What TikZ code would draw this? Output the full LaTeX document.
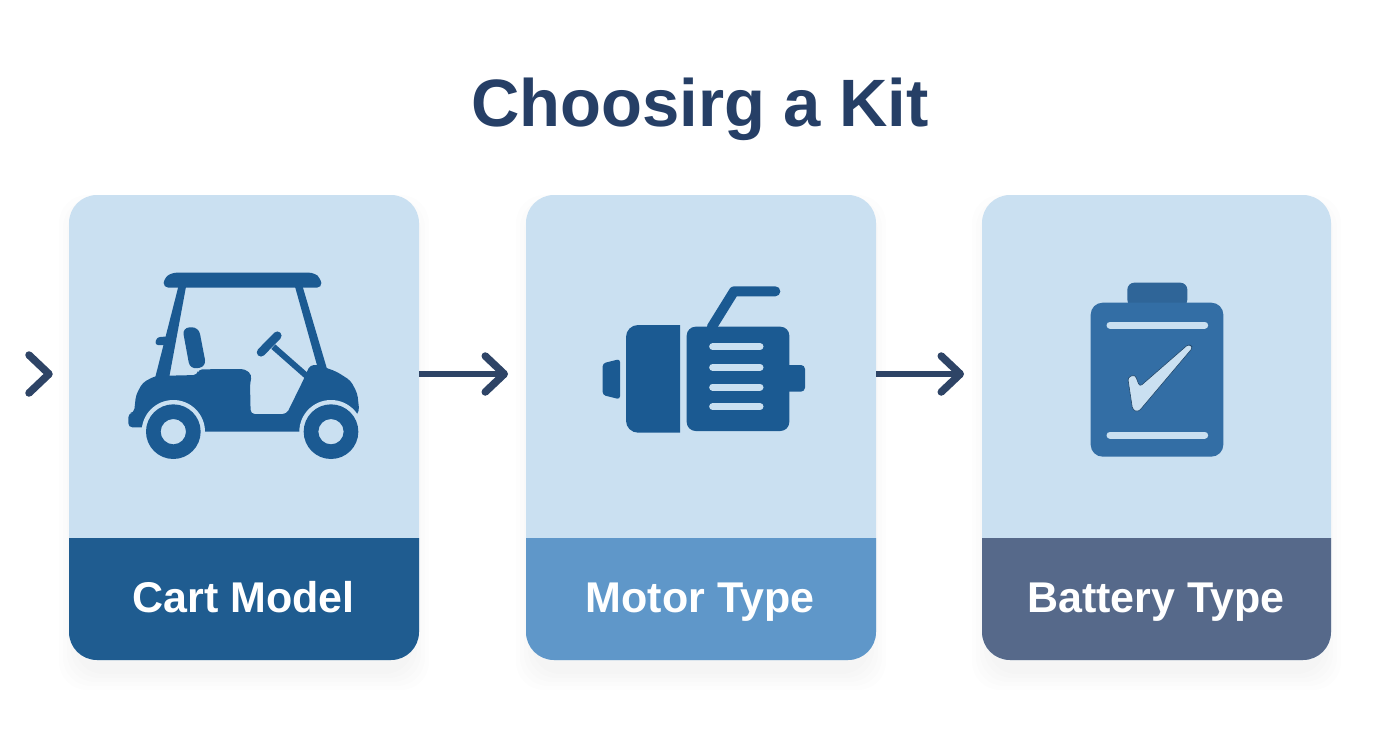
\documentclass[tikz,border=0pt]{standalone}
\usepackage{fontspec}
\setmainfont{Liberation Sans}
\usetikzlibrary{arrows.meta}
\definecolor{cardbg}{HTML}{CAE0F1}
\definecolor{navy}{HTML}{263F66}
\definecolor{arrowc}{HTML}{2E4466}
\definecolor{iconA}{HTML}{1B5A92}
\definecolor{iconB}{HTML}{336EA5}
\definecolor{iconBdark}{HTML}{2F6598}
\definecolor{bannerA}{HTML}{1F5C90}
\definecolor{bannerB}{HTML}{5F97C9}
\definecolor{bannerC}{HTML}{56698A}
\tikzset{
  card/.style={fill=cardbg,rounded corners=28pt,minimum height=465pt,inner sep=0pt,outer sep=0pt},
  bannertext/.style={text=white,font=\bfseries\fontsize{43}{43}\selectfont,inner sep=0pt,anchor=base},
  titletext/.style={text=navy,font=\bfseries\fontsize{67}{67}\selectfont,inner sep=0pt,anchor=base},
  flow/.style={draw=arrowc,line width=6pt,-{Straight Barb[length=19pt,width=36pt,line width=7.5pt,round]}},
  chevron/.style={draw=arrowc,line width=7.5pt,line cap=round,line join=round},
  slot/.style={draw=cardbg,line width=7pt,line cap=round},
  zoomA/.style={shift={(110,250)},x=0.33333pt,y=-0.33333pt},
  zoomB/.style={shift={(590,270)},x=0.33333pt,y=-0.33333pt},
  zoomC/.style={shift={(1070,270)},x=0.33333pt,y=-0.33333pt},
}
\newcommand{\softshadow}[2]{%
  \foreach \g in {16,12,8,4,0}{
    \fill[black,opacity=0.008,rounded corners=28pt]
      (#1+6-\g,195+16-\g) rectangle (#2-6+\g,660+14+\g);
  }}
\begin{document}
\begin{tikzpicture}[x=1pt,y=-1pt]
\useasboundingbox (0,0) rectangle (1392,752);
\fill[white] (0,0) rectangle (1392,752);

\softshadow{69}{419}
\softshadow{526}{876}
\softshadow{982}{1331}

\node[titletext] (title) at (700,126.5) {Choosirg a Kit};

% cards
\node[card,minimum width=350pt] (c1) at (244,427.5) {};
\node[card,minimum width=350pt] (c2) at (701,427.5) {};
\node[card,minimum width=349pt] (c3) at (1156.5,427.5) {};

% banners
\fill[bannerA] (c1.west |- 0,538) {[rounded corners=28pt] -- (c1.south west) -- (c1.south east)} -- (c1.east |- 0,538) -- cycle;
\fill[bannerB] (c2.west |- 0,538) {[rounded corners=28pt] -- (c2.south west) -- (c2.south east)} -- (c2.east |- 0,538) -- cycle;
\fill[bannerC] (c3.west |- 0,538) {[rounded corners=28pt] -- (c3.south west) -- (c3.south east)} -- (c3.east |- 0,538) -- cycle;

\node[bannertext] (t1) at (243.5,612) {Cart Model};
\node[bannertext] (t2) at (700,612) {Motor Type};
\node[bannertext] (t3) at (1156,612) {Battery Type};

% connectors
\coordinate (s1) at (c1.east |- 0,374);
\coordinate (e1) at (508,374);
\coordinate (s2) at (c2.east |- 0,374);
\coordinate (e2) at (964,374);
\draw[flow] (s1) -- (e1);
\draw[flow] (s2) -- (e2);
\coordinate (ch1) at (29,355);
\coordinate (ch2) at (49,374);
\coordinate (ch3) at (29,393);
\draw[chevron] (ch1) -- (ch2) -- (ch3);

% golf cart icon
\begin{scope}[zoomA]
  \fill[iconA,rounded corners=5pt] (160,113) -- (162,85) -- (185,68) -- (612,68) -- (632,85) -- (636,113) -- cycle;
  \fill[iconA] (205,110) -- (228,110) -- (178,380) -- (135,385) -- cycle;
  \fill[iconA] (555,110) -- (578,110) -- (652,360) -- (625,360) -- cycle;
  \fill[iconA,rounded corners=3pt] (135,285) -- (140,262) -- (185,258) -- (180,285) -- cycle;
  \fill[iconA,rounded corners=7pt] (217,233) -- (266,231) -- (289,350) -- (240,358) -- cycle;
  % body
  \fill[iconA,rounded corners=4pt] (55,532) -- (55,490) -- (72,488) -- (78,435) -- (98,398) -- (135,378) -- (262,375) -- (265,358) -- (405,357) -- (426,375) -- (420,400) -- (422,492) -- (530,492) -- (580,390) -- (600,345) -- (625,345) -- (680,365) -- (722,392) -- (742,430) -- (748,484) -- (700,545) -- (295,545) -- (150,545) -- (110,532) -- cycle;
  % wheel arches
  \fill[cardbg] (190,545) circle (95);
  \fill[cardbg] (663,545) circle (95);
  \fill[iconA,even odd rule] (190,545) circle (82) (190,545) circle (38);
  \fill[iconA,even odd rule] (663,545) circle (82) (663,545) circle (38);
  % steering
  \draw[iconA,line width=6pt] (490,290) -- (590,378);
  \draw[iconA,line width=8.5pt,line cap=round] (453,307) -- (502,257);
\end{scope}

% motor icon
\begin{scope}[zoomB]
  \draw[iconA,line width=10pt,line join=round,line cap=round] (365,172) -- (432,64) -- (556,64);
  \fill[iconA,rounded corners=3pt] (38,280) -- (90,267) -- (90,388) -- (38,375) -- cycle;
  \fill[iconA] (270,165) {[rounded corners=12pt] -- (108,165) -- (108,488)} -- (270,488) -- cycle;
  \fill[iconA,rounded corners=4pt] (580,285) -- (645,285) -- (645,365) -- (580,365) -- cycle;
  \fill[iconA,rounded corners=9pt] (290,170) rectangle (598,483);
  \foreach \yy in {230,292,351,410}{
    \draw[slot] (368,\yy) -- (510,\yy);
  }
\end{scope}

% battery icon
\begin{scope}[zoomC]
  \fill[iconBdark,rounded corners=7pt] (172,110) -- (172,38) -- (352,38) -- (352,110) -- cycle;
  \fill[iconB,rounded corners=12pt] (62,98) rectangle (460,560);
  \draw[slot] (120,165) -- (404,165);
  \draw[slot] (120,495) -- (404,495);
  \fill[cardbg,rounded corners=3pt,draw=iconBdark!70!black,line width=0.6pt] (173,322) -- (195,314) -- (209,350) -- (356,222) -- (369,232) -- (205,426) -- (188,420) -- cycle;
\end{scope}
\end{tikzpicture}
\end{document}
